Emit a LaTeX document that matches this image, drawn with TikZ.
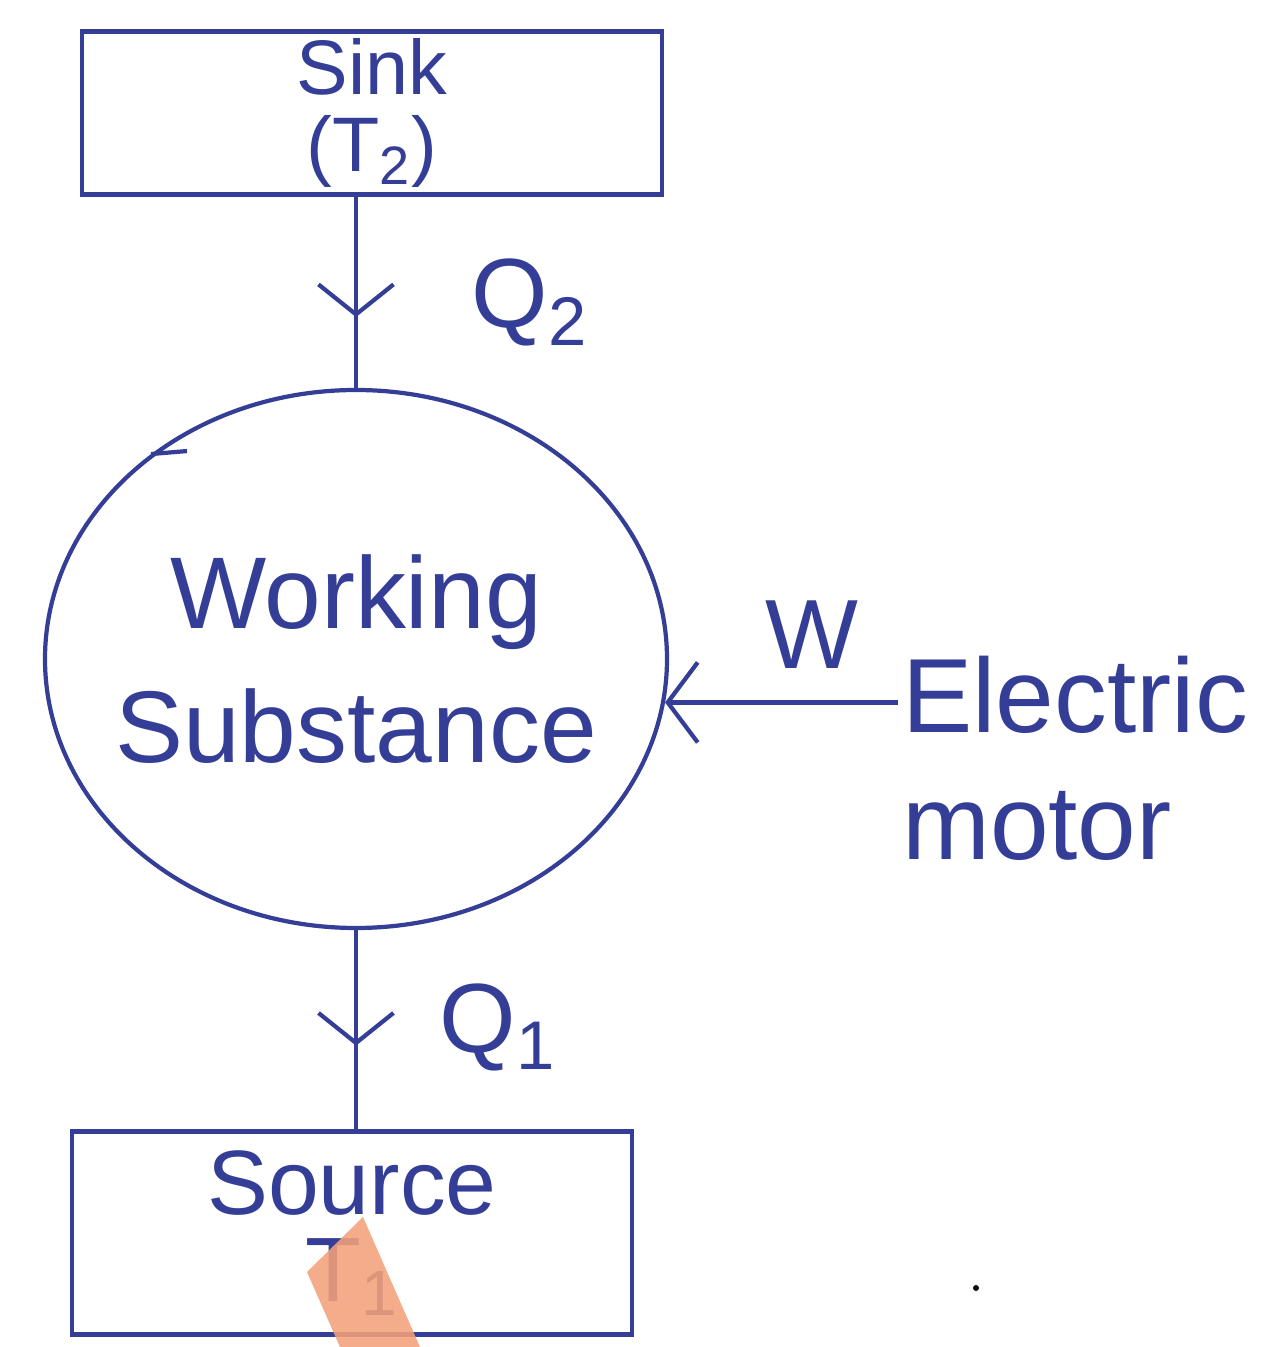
\documentclass[tikz,border=0pt]{standalone}
\usepackage{fontspec}
\setmainfont{Liberation Sans}
\usepackage{tikz}
\usetikzlibrary{arrows.meta,shapes.geometric,decorations.markings}
\definecolor{ink}{RGB}{52,62,150}
\definecolor{hilite}{RGB}{244,160,122}

\begin{document}
\begin{tikzpicture}[
    ink line/.style={ink, line width=1.2pt},
    box/.style={draw, ink line, rectangle, align=center, inner sep=0pt},
    barb/.style={-{Straight Barb[length=3mm, width=8mm, line width=1.2pt]}},
    mid barb/.style={postaction={decorate}, decoration={markings,
        mark=at position #1 with {\arrow{Straight Barb[length=3mm, width=7.5mm, line width=1.2pt]}}}},
    lbl/.style={ink, font=\fontsize{28}{34}\selectfont, inner sep=1pt},
  ]
  \useasboundingbox (0,0) rectangle (12.78,13.47);
  % Reservoirs
  \node[box, minimum width=5.8cm, minimum height=1.63cm, font=\fontsize{22}{22}\selectfont]
    (sink) at (3.72,12.34) {Sink\\(T\textsubscript{2})};
  \node[box, minimum width=5.6cm, minimum height=2.03cm, font=\fontsize{26}{25}\selectfont]
    (source) at (3.52,1.14) {Source\\T\textsubscript{1}};
  % Working substance
  \node[draw, ink line, ellipse, minimum width=6.22cm, minimum height=5.38cm, inner ysep=0pt,
        inner xsep=-0.45cm, align=center, font=\fontsize{29}{38}\selectfont]
    (ws) at (3.56,6.88) {Working\\Substance};
  \draw[ink line] (ws.135) -- ++(0.36,0.03);
  % Motor
  \node[lbl, anchor=north west, align=left, font=\fontsize{30}{36}\selectfont]
    (motor) at (8.98,6.95) {Electric\\motor};
  % Heat flows
  \draw[ink line, mid barb=0.63] (ws.north |- sink.south) -- (ws.north);
  \node[lbl] (q2) at (5.3,10.45) {Q\textsubscript{2}};
  \draw[ink line, mid barb=0.58] (ws.south) -- (ws.south |- source.north);
  \node[lbl] (q1) at (4.98,3.2) {Q\textsubscript{1}};
  % Work input
  \draw[ink line, barb] (motor.west |- ws.-8) -- (ws.-8);
  \node[lbl] (w) at (8.12,7.12) {W};
  % Marks on the sheet
  \fill[hilite, fill opacity=0.88] (3.63,1.30) -- (3.07,0.75) -- (3.40,0) -- (4.20,0) -- cycle;
  \fill[black] (9.76,0.59) circle (0.03);
\end{tikzpicture}
\end{document}
